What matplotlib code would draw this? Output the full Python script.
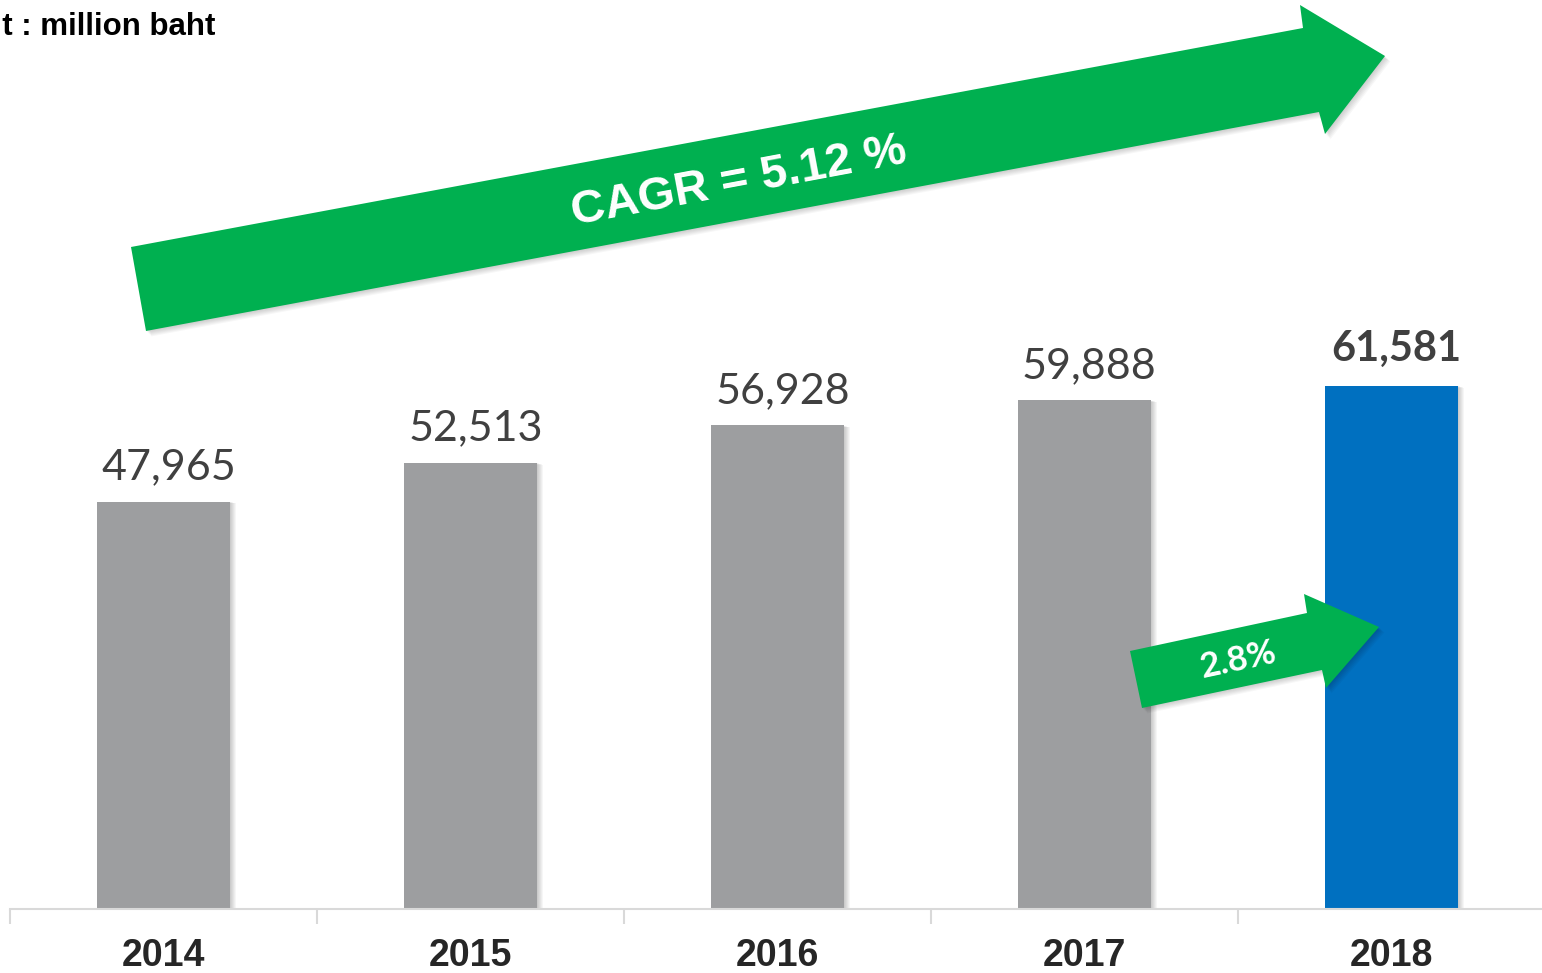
import matplotlib
matplotlib.use('Agg')
import matplotlib.pyplot as plt
from matplotlib.patches import Polygon
from matplotlib import transforms

# data
years = ['2014', '2015', '2016', '2017', '2018']
revenue = [47965, 52513, 56928, 59888, 61581]
cagr_text = 'CAGR = 5.12 %'
yoy_text = '2.8%'
unit_text = 'Unit : million baht'

W, H = 1542, 973
GREY = '#9d9ea0'
BLUE = '#0070c0'
GREEN = '#00b050'

fig = plt.figure(figsize=(W / 100, H / 100), dpi=100)
ax = fig.add_axes([10 / W, 64 / H, 1535 / W, 909 / H])

x = list(range(len(years)))
colors = [GREY] * (len(years) - 1) + [BLUE]

# soft shadow behind bars
for k in range(1, 7):
    off = transforms.offset_copy(ax.transData, fig=fig, x=k * 0.9, y=-k * 0.3, units='dots')
    ax.bar(x, revenue, width=0.436, color='black', alpha=0.035, transform=off, zorder=1)
ax.bar(x, revenue, width=0.436, color=colors, zorder=2)

for i, v in enumerate(revenue):
    last = i == len(revenue) - 1
    ax.annotate(f'{v:,}', (i, v), xytext=(3.5, 11 if not last else 13), textcoords='offset points',
                ha='center', va='bottom', fontsize=31 if not last else 30,
                fontweight='bold' if last else 'normal', family=['Lato', 'DejaVu Sans'],
                color='#404040', zorder=5)

ax.set_xlim(-0.5, len(years) - 0.5)
ax.set_ylim(0, 107000)
ax.set_xticks(x)
ax.set_xticklabels(years, fontsize=27, fontweight='bold', color='#262626',
                   family=['Liberation Sans', 'DejaVu Sans'])
ax.set_xticks([i - 0.5 for i in range(len(years) + 1)], minor=True)
ax.tick_params(axis='x', which='major', length=0, pad=21)
ax.tick_params(axis='x', which='minor', length=11, color='#d9d9d9', width=1.5)
ax.set_yticks([])
for s in ['top', 'right', 'left']:
    ax.spines[s].set_visible(False)
ax.spines['bottom'].set_color('#d9d9d9')
ax.spines['bottom'].set_linewidth(1.5)
ax.set_zorder(1)


def px(pts):
    return [(a / W, 1 - b / H) for a, b in pts]


def arrow(pts, zo):
    for k in range(1, 7):
        sh = [(a + k * 0.9, b + k * 0.9) for a, b in pts]
        fig.patches.append(Polygon(px(sh), closed=True, transform=fig.transFigure,
                                   facecolor='black', alpha=0.03, edgecolor='none', zorder=zo))
    fig.patches.append(Polygon(px(pts), closed=True, transform=fig.transFigure,
                               facecolor=GREEN, edgecolor='none', zorder=zo + 1))


big = [(131, 247), (1303, 28), (1300, 5), (1385, 56), (1325, 134), (1319, 112), (146, 331)]
small = [(1130, 651), (1307, 613), (1304, 594), (1379, 627), (1326, 688), (1322, 670), (1142, 708)]
arrow(big, 10)
arrow(small, 10)

fig.text(739 / W, 1 - 182 / H, cagr_text, rotation=10.6, rotation_mode='anchor',
         ha='center', va='center', fontsize=34, fontweight='bold', color='white',
         family=['Liberation Sans', 'DejaVu Sans'], zorder=20)
fig.text(1238 / W, 1 - 660 / H, yoy_text, rotation=12.1, rotation_mode='anchor',
         ha='center', va='center', fontsize=25, fontweight='bold', color='white',
         family=['Lato', 'DejaVu Sans'], zorder=20)
fig.text(215 / W, 1 - 35 / H, unit_text, ha='right', va='baseline', fontsize=22.5,
         fontweight='bold', color='black', family=['Liberation Sans', 'DejaVu Sans'])

fig.savefig('out.png', dpi=100)
